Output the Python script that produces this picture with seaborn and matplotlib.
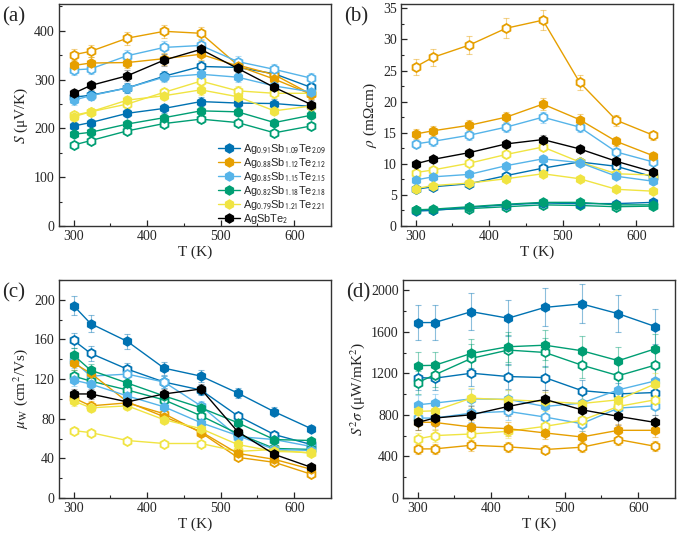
import numpy as np
import pandas as pd
import seaborn as sns
import matplotlib
matplotlib.use("Agg")
import matplotlib.pyplot as plt
from matplotlib.lines import Line2D
from matplotlib.ticker import MultipleLocator

# ---------------- data ----------------
T = [300, 323, 373, 423, 473, 523, 573, 623]

labels = [r'Ag$_{\mathsf{0.91}}$Sb$_{\mathsf{1.09}}$Te$_{\mathsf{2.09}}$',
          r'Ag$_{\mathsf{0.88}}$Sb$_{\mathsf{1.12}}$Te$_{\mathsf{2.12}}$',
          r'Ag$_{\mathsf{0.85}}$Sb$_{\mathsf{1.15}}$Te$_{\mathsf{2.15}}$',
          r'Ag$_{\mathsf{0.82}}$Sb$_{\mathsf{1.18}}$Te$_{\mathsf{2.18}}$',
          r'Ag$_{\mathsf{0.79}}$Sb$_{\mathsf{1.21}}$Te$_{\mathsf{2.21}}$',
          r'AgSbTe$_{\mathsf{2}}$']
colors = ['#0072B2', '#E69F00', '#56B4E9', '#009E73', '#F0E442', '#000000']

# (a) Seebeck coefficient, uV/K  (filled: 6 series incl. AgSbTe2; open: 5 series)
S_filled = [
    [205, 212, 231, 241, 255, 252, 251, 245],
    [329, 334, 335, 343, 352, 328, 301, 270],
    [258, 267, 283, 305, 311, 305, 287, 275],
    [188, 192, 209, 222, 236, 234, 212, 227],
    [224, 234, 258, 267, 279, 265, 236, 246],
    [272, 288, 308, 340, 362, 323, 284, 249],
]
S_open = [
    [264, 268, 283, 307, 327, 325, 312, 284],
    [351, 358, 385, 399, 395, 330, 310, 270],
    [320, 322, 349, 366, 370, 337, 321, 303],
    [166, 175, 195, 210, 219, 212, 191, 205],
    [227, 234, 250, 274, 297, 277, 272, 272],
]

# (b) resistivity, mOhm cm
R_filled = [
    [2.4, 2.5, 3.0, 3.4, 3.7, 3.6, 3.6, 3.8],
    [14.8, 15.3, 16.2, 17.5, 19.6, 17.1, 13.6, 11.3],
    [7.4, 7.9, 8.3, 9.7, 10.8, 10.2, 8.0, 7.2],
    [2.6, 2.7, 3.1, 3.5, 3.8, 3.8, 3.4, 3.4],
    [6.0, 6.5, 6.9, 7.6, 8.4, 7.6, 5.9, 5.6],
    [10.0, 10.7, 11.8, 13.2, 13.9, 12.4, 10.4, 8.7],
]
R_open = [
    [5.9, 6.3, 6.8, 8.1, 9.3, 10.3, 9.6, 7.9],
    [25.6, 27.1, 29.1, 31.8, 33.1, 23.1, 17.0, 14.6],
    [13.2, 13.6, 14.6, 15.9, 17.5, 15.9, 11.9, 10.3],
    [2.5, 2.6, 2.8, 3.1, 3.4, 3.3, 3.1, 3.2],
    [8.6, 9.0, 10.1, 11.5, 12.7, 10.3, 8.4, 8.2],
]

# (c) weighted mobility, cm2/Vs
M_filled = [
    [194, 176, 158, 131, 123, 106, 87, 70],
    [136, 126, 97, 82, 67, 45, 39, 29],
    [119, 115, 103, 92, 76, 63, 49, 48],
    [144, 129, 116, 103, 91, 76, 59, 58],
    [98, 91, 93, 79, 70, 54, 47, 46],
    [105, 105, 97, 105, 110, 67, 44, 31],
]
M_open = [
    [159, 146, 130, 117, 109, 83, 64, 54],
    [101, 93, 96, 85, 66, 41, 36, 24],
    [138, 123, 125, 117, 93, 62, 59, 52],
    [123, 118, 109, 99, 83, 65, 50, 49],
    [68, 66, 58, 55, 55, 47, 49, 45],
]

# (d) power factor, uW/mK2
P_filled = [
    [1690, 1690, 1795, 1732, 1836, 1870, 1775, 1652],
    [731, 728, 684, 668, 627, 588, 652, 652],
    [898, 914, 955, 950, 882, 914, 1042, 1128],
    [1275, 1278, 1393, 1457, 1472, 1419, 1323, 1437],
    [834, 840, 962, 946, 930, 910, 946, 1099],
    [728, 770, 802, 882, 950, 850, 786, 728],
]
P_open = [
    [1160, 1154, 1202, 1170, 1160, 1035, 1003, 1016],
    [473, 473, 508, 493, 467, 489, 563, 498],
    [770, 770, 818, 834, 780, 716, 866, 888],
    [1112, 1186, 1345, 1425, 1402, 1280, 1178, 1280],
    [569, 601, 617, 643, 690, 748, 882, 946],
]

# ---------------- style ----------------
sns.set_style("white")
plt.rcParams['font.family'] = ['Liberation Serif', 'DejaVu Serif']
plt.rcParams['mathtext.fontset'] = 'stix'
plt.rcParams['axes.linewidth'] = 1.0
plt.rcParams['axes.edgecolor'] = '#333333'

fig = plt.figure(figsize=(6.78, 5.40), dpi=100)
W = 272 / 678
H_top = 222 / 540
H_bot = 218 / 540
ax_a = fig.add_axes([59 / 678, 1 - 226 / 540, W, H_top])
ax_b = fig.add_axes([401 / 678, 1 - 226 / 540, W, H_top])
ax_c = fig.add_axes([59 / 678, 1 - 498 / 540, W, H_bot])
ax_d = fig.add_axes([403 / 678, 1 - 498 / 540, W, H_bot])

panels = [
    (ax_a, S_filled, S_open, 0.035, (0, 455), 100, 50, r'$S$ (μV/K)', '(a)'),
    (ax_b, R_filled, R_open, 0.05, (0, 35.7), 5, 2.5, r'$\rho$ (mΩcm)', '(b)'),
    (ax_c, M_filled, M_open, 0.05, (0, 220), 40, 20, r'$\mu_{\rm W}$ (cm$^2$/Vs)', '(c)'),
    (ax_d, P_filled, P_open, 0.10, (0, 2100), 400, 200, r'$S^2\sigma$ (μW/mK$^2$)', '(d)'),
]

ms = 6.5
for ax, filled, opened, efrac, ylim, ymaj, ymin, ylab, plab in panels:
    for i, c in enumerate(colors):
        ecol = c if c != '#000000' else '#555555'
        if i < len(opened):
            v = np.array(opened[i], dtype=float)
            ax.errorbar(T, v, yerr=v * efrac, fmt='none', ecolor=ecol, alpha=0.45,
                        capsize=2, elinewidth=0.8, capthick=0.8, zorder=2)
            sns.lineplot(x=T, y=v, ax=ax, color=c, marker='h', markersize=ms,
                         markerfacecolor='white', markeredgecolor=c, markeredgewidth=1.3,
                         linewidth=1.0, legend=False, zorder=3)
        v = np.array(filled[i], dtype=float)
        ax.errorbar(T, v, yerr=v * efrac, fmt='none', ecolor=ecol, alpha=0.45,
                    capsize=2, elinewidth=0.8, capthick=0.8, zorder=2)
        sns.lineplot(x=T, y=v, ax=ax, color=c, marker='h', markersize=ms,
                     markerfacecolor=c, markeredgecolor=c, markeredgewidth=1.0,
                     linewidth=1.0, legend=False, zorder=4)

    ax.set_xlim(280, 650)
    ax.set_ylim(*ylim)
    ax.xaxis.set_major_locator(MultipleLocator(100))
    ax.xaxis.set_minor_locator(MultipleLocator(50))
    ax.yaxis.set_major_locator(MultipleLocator(ymaj))
    ax.yaxis.set_minor_locator(MultipleLocator(ymin))
    ax.tick_params(which='both', direction='in', bottom=True, left=True, top=False, right=False)
    ax.tick_params(which='major', length=4, width=0.9, labelsize=10, pad=3)
    ax.tick_params(which='minor', length=2, width=0.8)
    ax.set_xlabel('T (K)', fontsize=11, labelpad=2)
    ax.set_ylabel(ylab, fontsize=11, labelpad=3)
    ax.text(-0.21, 0.985, plab, transform=ax.transAxes, fontsize=15, va='top', ha='left')

handles = [Line2D([], [], color=c, marker='h', markersize=ms, markerfacecolor=c,
                  markeredgecolor=c, lw=1.0) for c in colors]
leg = ax_a.legend(handles, labels, loc='lower right', bbox_to_anchor=(1.0, -0.02),
                  frameon=False,
                  prop={'family': 'Liberation Sans', 'size': 7.9}, handlelength=2.0,
                  handletextpad=0.3, labelspacing=0.0, borderaxespad=0.0)
leg.set_zorder(10)

fig.savefig('out.png', dpi=100)
